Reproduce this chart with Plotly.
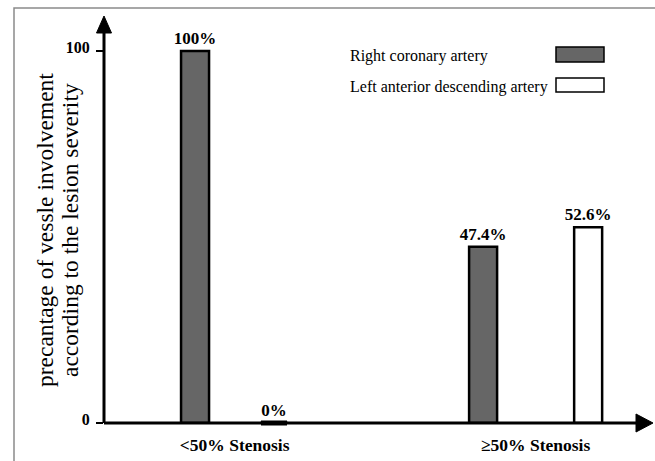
import plotly.graph_objects as go

categories = ["<50% Stenosis", "\u226550% Stenosis"]
series_names = ["Right coronary artery", "Left anterior descending artery"]
rca_values = [100, 47.4]
lad_values = [0, 52.6]
rca_labels = ["100%", "47.4%"]
lad_labels = ["0%", "52.6%"]
y_tick_vals = [0, 100]
y_tick_text = ["0", "100"]
y_title_lines = ["precantage of vessle involvement", "according to the lesion severity"]

SERIF = "Liberation Serif"
W, H = 655, 461
L, R, T, B = 104, 5, 16, 38
PW = W - L - R
PH = H - T - B

def px2paper_x(px):
    return (px - L) / PW

def py2paper_y(py):
    return (H - B - py) / PH

bw = 0.093
bold = dict(family=SERIF, size=17, color="#000000", weight="bold")
fig = go.Figure()
fig.add_trace(go.Bar(
    x=categories, y=rca_values, name=series_names[0],
    width=bw, offset=[-0.178, -0.221],
    marker=dict(color="#666666", line=dict(color="#000000", width=2.5)),
    text=rca_labels, textposition="outside", cliponaxis=False, constraintext="none",
    textfont=bold, showlegend=False,
))
fig.add_trace(go.Bar(
    x=categories, y=lad_values, name=series_names[1],
    width=bw, offset=[0.0845, 0.128],
    marker=dict(color="#ffffff", line=dict(color="#000000", width=2.5)),
    text=lad_labels, textposition="outside", cliponaxis=False, constraintext="none",
    textfont=bold, showlegend=False,
))

ymax = 100 * PH / (H - B - 51)

fig.update_layout(
    width=W, height=H,
    margin=dict(l=L, r=R, t=T, b=B, autoexpand=False),
    paper_bgcolor="#ffffff", plot_bgcolor="#ffffff",
    barmode="overlay",
    xaxis=dict(
        type="category", range=[-0.434, 1.38], automargin=False,
        showline=False, showgrid=False, zeroline=False, ticks="",
        tickfont=dict(family=SERIF, size=17.5, color="#000000", weight="bold"),
        ticklabelstandoff=9,
    ),
    yaxis=dict(
        range=[0, ymax], showgrid=False, zeroline=False, showline=False, automargin=False,
        tickvals=y_tick_vals, ticktext=y_tick_text,
        ticks="outside", ticklen=7, tickwidth=2, tickcolor="#000000",
        tickfont=dict(family=SERIF, size=16, color="#000000", weight="bold"),
        ticklabelstandoff=3, ticklabelshift=-4,
    ),
    showlegend=False,
)

shapes = []
shapes.append(dict(type="rect", xref="paper", yref="paper",
                   x0=px2paper_x(14), x1=px2paper_x(670),
                   y0=py2paper_y(475), y1=py2paper_y(8),
                   line=dict(color="#8a8a8a", width=1.5), fillcolor="rgba(0,0,0,0)", layer="below"))
shapes.append(dict(type="line", xref="paper", yref="paper",
                   x0=0, x1=0, y0=0, y1=py2paper_y(30),
                   line=dict(color="#000000", width=3)))
shapes.append(dict(type="path", xref="paper", yref="paper",
                   path="M {a},{b} L {c},{d} L {e},{f} Z".format(
                       a=px2paper_x(96.5), b=py2paper_y(33),
                       c=px2paper_x(104), d=py2paper_y(16),
                       e=px2paper_x(111.5), f=py2paper_y(33)),
                   fillcolor="#000000", line=dict(color="#000000", width=1)))
shapes.append(dict(type="line", xref="paper", yref="paper",
                   x0=0, x1=px2paper_x(640), y0=0, y1=0,
                   line=dict(color="#000000", width=3)))
shapes.append(dict(type="path", xref="paper", yref="paper",
                   path="M {a},{b} L {c},{d} L {e},{f} Z".format(
                       a=px2paper_x(636), b=py2paper_y(414),
                       c=px2paper_x(653), d=py2paper_y(423),
                       e=px2paper_x(636), f=py2paper_y(432)),
                   fillcolor="#000000", line=dict(color="#000000", width=1)))
shapes.append(dict(type="line", xref="paper", yref="paper",
                   x0=px2paper_x(261), x1=px2paper_x(287), y0=0, y1=0,
                   line=dict(color="#000000", width=5)))

legend_fills = ["#666666", "#ffffff"]
legend_rows = [(47, 62), (78, 92)]
annotations = []
for name, fill, (t0, t1) in zip(series_names, legend_fills, legend_rows):
    shapes.append(dict(type="rect", xref="paper", yref="paper",
                       x0=px2paper_x(556), x1=px2paper_x(604),
                       y0=py2paper_y(t1), y1=py2paper_y(t0),
                       fillcolor=fill, line=dict(color="#000000", width=1.5)))
    annotations.append(dict(xref="paper", yref="paper",
                            x=px2paper_x(348), y=py2paper_y((t0 + t1) / 2 + 2),
                            xanchor="left", yanchor="middle", showarrow=False,
                            text=name, font=dict(family=SERIF, size=16, color="#000000")))
for line, cx in zip(y_title_lines, [45, 70]):
    annotations.append(dict(xref="paper", yref="paper",
                            x=px2paper_x(cx), y=py2paper_y(230),
                            xanchor="center", yanchor="middle", showarrow=False, textangle=-90,
                            text=line, font=dict(family=SERIF, size=23.5, color="#000000")))

fig.update_layout(shapes=shapes, annotations=annotations)

fig.write_html("out.html", config={"displayModeBar": False},
               post_script="document.body.style.margin='0px';")
